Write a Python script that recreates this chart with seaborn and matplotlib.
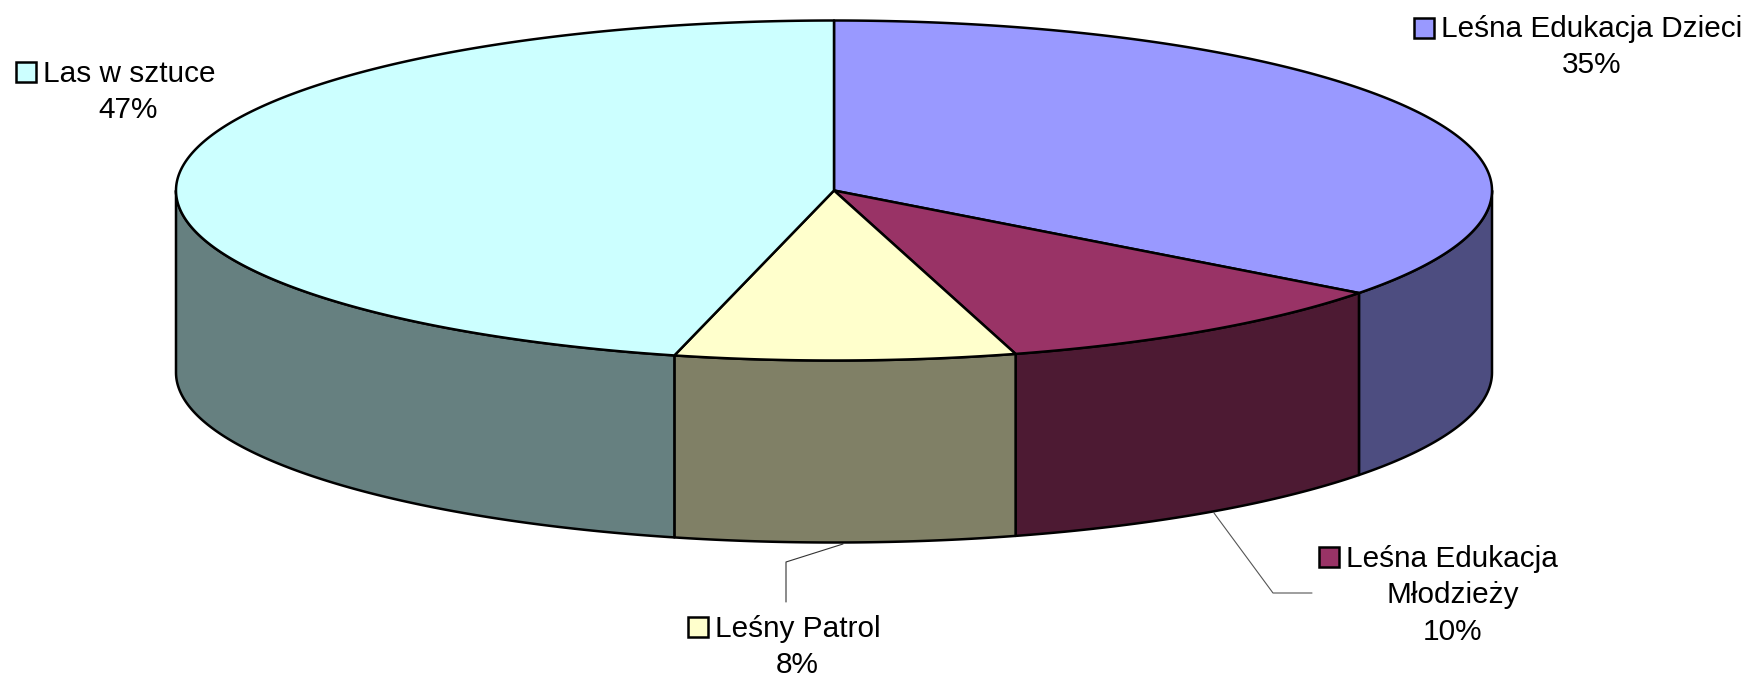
import numpy as np
import matplotlib
matplotlib.use('Agg')
import matplotlib.pyplot as plt
from matplotlib.patches import Polygon, Rectangle
import seaborn as sns

# slice sizes as measured on the drawn pie, the printed labels are kept separately
categories = ['Leśna Edukacja Dzieci', 'Leśna Edukacja Młodzieży', 'Leśny Patrol', 'Las w sztuce']
slice_shares = [35.3, 10.25, 8.35, 46.1]
printed_percent = [35, 10, 8, 47]
top_colors = ['#9999FF', '#993366', '#FFFFCC', '#CCFFFF']
side_colors = ['#4D4D80', '#4D1A33', '#808066', '#668080']

sns.set_theme(style='white')
plt.rcParams['font.family'] = ['Liberation Sans', 'DejaVu Sans']

CX, CY, RX, RY, DEPTH = 834, 190.5, 658, 170, 182
LW = 1.8
FS = 21.4


def ellipse_pts(a0, a1, dy=0.0):
    # angles in degrees, clockwise from the top of the pie
    t = np.radians(np.linspace(a0, a1, max(int(abs(a1 - a0) * 2), 2)))
    return np.column_stack([CX + RX * np.sin(t), CY - RY * np.cos(t) + dy])


fig = plt.figure(figsize=(17.53, 6.78), dpi=100)
ax = fig.add_axes([0, 0, 1, 1])
ax.set_xlim(0, 1753)
ax.set_ylim(678, 0)
ax.axis('off')

edges = np.concatenate([[0], np.cumsum(slice_shares)]) / sum(slice_shares) * 360

# side walls first (only the front half of the pie shows them)
for i in range(len(categories)):
    a0, a1 = max(edges[i], 90), min(edges[i + 1], 270)
    if a1 <= a0:
        continue
    wall = np.vstack([ellipse_pts(a0, a1), ellipse_pts(a1, a0, DEPTH)])
    ax.add_patch(Polygon(wall, closed=True, facecolor=side_colors[i], edgecolor='black',
                         linewidth=LW, joinstyle='round', zorder=2))

# top face
for i in range(len(categories)):
    arc = ellipse_pts(edges[i], edges[i + 1])
    ax.add_patch(Polygon(np.vstack([[CX, CY], arc]), closed=True, facecolor=top_colors[i],
                         edgecolor='black', linewidth=LW, joinstyle='round', zorder=3))

# leader lines
ax.plot([1214, 1273, 1312], [513, 593, 593], color='#555555', lw=0.8, zorder=1)
ax.plot([843, 786, 786], [544, 562, 602], color='#333333', lw=0.8, zorder=1)


def label(i, box_x, box_y, lines):
    # lines: (text, x, y, ha)
    ax.add_patch(Rectangle((box_x, box_y), 20, 20, facecolor=top_colors[i], edgecolor='black',
                           linewidth=1.8, zorder=4))
    for txt, x, y, ha in lines:
        ax.text(x, y, txt, fontsize=FS, ha=ha, va='center', color='black', zorder=4)


label(0, 1414, 18, [('Leśna Edukacja Dzieci', 1441, 29, 'left'),
                    (f'{printed_percent[0]}%', 1592, 65, 'center')])
label(1, 1319, 547, [('Leśna Edukacja', 1346, 559, 'left'),
                     ('Młodzieży', 1453, 595, 'center'),
                     (f'{printed_percent[1]}%', 1453, 632, 'center')])
label(2, 688, 617, [('Leśny Patrol', 715, 629, 'left'),
                    (f'{printed_percent[2]}%', 797, 665, 'center')])
label(3, 16, 62, [('Las w sztuce', 43, 74, 'left'),
                  (f'{printed_percent[3]}%', 128, 110, 'center')])

fig.savefig('out.png', dpi=100, facecolor='white')
plt.close()
